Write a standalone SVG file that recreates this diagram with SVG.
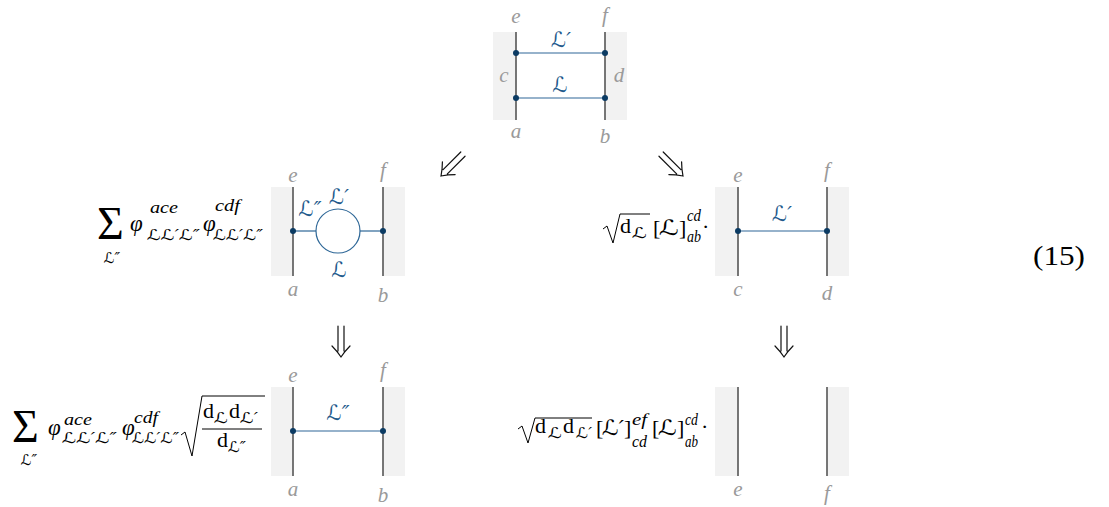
<svg xmlns="http://www.w3.org/2000/svg" xmlns:xlink="http://www.w3.org/1999/xlink" width="1109" height="507" viewBox="0 0 1109 507">
<style>
.bg{fill:#f2f2f2}
.wire{stroke:#555;stroke-width:1.6}
.link{stroke:#2e6797;stroke-width:1.2;fill:none}
.dot{fill:#0b3b63}
.lbl{font-family:"Liberation Serif","DejaVu Serif",serif;font-style:italic;font-size:21px;fill:#9a9a9a;text-anchor:middle}
.bl{font-family:"DejaVu Serif","DejaVu Sans",serif;font-style:italic;font-size:21px;fill:#1f5a8c;text-anchor:middle}
.m{font-family:"Liberation Serif","DejaVu Serif",serif;font-size:22px;fill:#000}
.mi{font-family:"Liberation Serif","DejaVu Serif",serif;font-style:italic;font-size:23px;fill:#000}
.s{font-family:"Liberation Serif","DejaVu Serif",serif;font-style:italic;font-size:17px;fill:#000}
.L{font-family:"DejaVu Serif","DejaVu Sans",serif;font-style:italic;font-size:15px;fill:#000}
.LL{font-family:"DejaVu Serif","DejaVu Sans",serif;font-style:italic;font-size:21px;fill:#000}
.sig{font-family:"Liberation Serif","DejaVu Serif",serif;font-size:46px;fill:#000}
.rad{stroke:#000;stroke-width:1;fill:none}
.arr{stroke:#111;stroke-width:1.2;fill:none;stroke-linecap:round}
</style>
<defs>
<g id="dbl">
<path d="M-3,-31 V-6 M3,-31 V-6 M-9,-11 Q-4,-6 0,0 Q4,-6 9,-11"/>
</g>
</defs>

<g id="top">
<rect class="bg" x="493" y="32" width="23" height="88"/>
<rect class="bg" x="605" y="32" width="22" height="88"/>
<line class="wire" x1="516" y1="32" x2="516" y2="120"/>
<line class="wire" x1="605" y1="32" x2="605" y2="120"/>
<line class="link" x1="516" y1="53" x2="605" y2="53"/>
<line class="link" x1="516" y1="98" x2="605" y2="98"/>
<circle class="dot" cx="516" cy="53" r="3"/><circle class="dot" cx="605" cy="53" r="3"/>
<circle class="dot" cx="516" cy="98" r="3"/><circle class="dot" cx="605" cy="98" r="3"/>
<text class="lbl" x="516" y="23">e</text>
<text class="lbl" x="605" y="22">f</text>
<text class="lbl" x="504" y="82">c</text>
<text class="lbl" x="619" y="82">d</text>
<text class="lbl" x="516" y="138">a</text>
<text class="lbl" x="605" y="143">b</text>
<text class="bl" x="561" y="47">ℒ′</text>
<text class="bl" x="560" y="92">ℒ</text>
</g>

<g id="mid-left">
<rect class="bg" x="271" y="187" width="22" height="89"/>
<rect class="bg" x="383" y="187" width="22" height="89"/>
<line class="wire" x1="293" y1="187" x2="293" y2="276"/>
<line class="wire" x1="383" y1="187" x2="383" y2="276"/>
<line class="link" x1="293" y1="231" x2="316" y2="231"/>
<line class="link" x1="360" y1="231" x2="383" y2="231"/>
<circle class="link" cx="338" cy="231" r="22"/>
<circle class="dot" cx="293" cy="231" r="3"/><circle class="dot" cx="383" cy="231" r="3"/>
<text class="lbl" x="293" y="182">e</text>
<text class="lbl" x="383" y="177">f</text>
<text class="lbl" x="293" y="296">a</text>
<text class="lbl" x="383" y="302">b</text>
<text class="bl" x="339" y="204">ℒ′</text>
<text class="bl" x="310" y="216">ℒ″</text>
<text class="bl" x="339" y="277">ℒ</text>
</g>

<g id="mid-left-coef">
<text class="sig" x="97" y="239">Σ</text>
<text class="L" x="112" y="263" text-anchor="middle">ℒ″</text>
<text class="mi" x="130" y="231">φ</text>
<text class="s" x="150" y="213" textLength="28" lengthAdjust="spacingAndGlyphs">ace</text>
<text class="L" x="147" y="240" textLength="53" lengthAdjust="spacingAndGlyphs">ℒℒ′ℒ″</text>
<text class="mi" x="203" y="231">φ</text>
<text class="s" x="215" y="211" textLength="25" lengthAdjust="spacingAndGlyphs">cdf</text>
<text class="L" x="213" y="240" textLength="50" lengthAdjust="spacingAndGlyphs">ℒℒ′ℒ″</text>
</g>

<g id="mid-right">
<rect class="bg" x="715" y="187" width="23" height="89"/>
<rect class="bg" x="827" y="187" width="22" height="89"/>
<line class="wire" x1="738" y1="187" x2="738" y2="276"/>
<line class="wire" x1="827" y1="187" x2="827" y2="276"/>
<line class="link" x1="738" y1="231" x2="827" y2="231"/>
<circle class="dot" cx="738" cy="231" r="3"/><circle class="dot" cx="827" cy="231" r="3"/>
<text class="lbl" x="738" y="182">e</text>
<text class="lbl" x="827" y="177">f</text>
<text class="lbl" x="738" y="296">c</text>
<text class="lbl" x="827" y="300">d</text>
<text class="bl" x="782" y="221">ℒ′</text>
</g>

<g id="mid-right-coef">
<path class="rad" d="M603,229 L607,226 L613,243 L620,214 H650"/>
<text class="m" x="620" y="233">d</text>
<text class="L" x="632" y="238" textLength="15" lengthAdjust="spacingAndGlyphs">ℒ</text>
<text class="m" x="653" y="235">[</text>
<text class="LL" x="659" y="235" textLength="20" lengthAdjust="spacingAndGlyphs">ℒ</text>
<text class="m" x="679" y="235">]</text>
<text class="s" x="687" y="221" textLength="14" lengthAdjust="spacingAndGlyphs">cd</text>
<text class="s" x="687" y="242" textLength="14" lengthAdjust="spacingAndGlyphs">ab</text>
<text class="m" x="702" y="234">·</text>
</g>

<g id="bot-left">
<rect class="bg" x="271" y="387" width="22" height="89"/>
<rect class="bg" x="383" y="387" width="22" height="89"/>
<line class="wire" x1="293" y1="387" x2="293" y2="476"/>
<line class="wire" x1="383" y1="387" x2="383" y2="476"/>
<line class="link" x1="293" y1="431" x2="383" y2="431"/>
<circle class="dot" cx="293" cy="431" r="3"/><circle class="dot" cx="383" cy="431" r="3"/>
<text class="lbl" x="293" y="382">e</text>
<text class="lbl" x="383" y="377">f</text>
<text class="lbl" x="293" y="496">a</text>
<text class="lbl" x="383" y="502">b</text>
<text class="bl" x="338" y="420">ℒ″</text>
</g>

<g id="bot-left-coef">
<text class="sig" x="12" y="442">Σ</text>
<text class="L" x="29" y="465" text-anchor="middle">ℒ″</text>
<text class="mi" x="48" y="435">φ</text>
<text class="s" x="64" y="425" textLength="28" lengthAdjust="spacingAndGlyphs">ace</text>
<text class="L" x="62" y="443" textLength="55" lengthAdjust="spacingAndGlyphs">ℒℒ′ℒ″</text>
<text class="mi" x="122" y="435">φ</text>
<text class="s" x="134" y="423" textLength="24" lengthAdjust="spacingAndGlyphs">cdf</text>
<text class="L" x="132" y="443" textLength="47" lengthAdjust="spacingAndGlyphs">ℒℒ′ℒ″</text>
<path class="rad" d="M181,435 L185,432 L192,456 L202,396 H265"/>
<text class="m" x="203" y="418">d</text>
<text class="L" x="214" y="423" textLength="14" lengthAdjust="spacingAndGlyphs">ℒ</text>
<text class="m" x="229" y="418">d</text>
<text class="L" x="240" y="423" textLength="18" lengthAdjust="spacingAndGlyphs">ℒ′</text>
<line x1="202" y1="429" x2="262" y2="429" stroke="#000" stroke-width="1"/>
<text class="m" x="217" y="447">d</text>
<text class="L" x="228" y="452" textLength="18" lengthAdjust="spacingAndGlyphs">ℒ″</text>
</g>

<g id="bot-right">
<rect class="bg" x="715" y="387" width="23" height="89"/>
<rect class="bg" x="827" y="387" width="22" height="89"/>
<line class="wire" x1="738" y1="387" x2="738" y2="476"/>
<line class="wire" x1="827" y1="387" x2="827" y2="476"/>
<text class="lbl" x="738" y="496">e</text>
<text class="lbl" x="827" y="500">f</text>
</g>

<g id="bot-right-coef">
<path class="rad" d="M518,429 L522,426 L528,443 L535,418 H592"/>
<text class="m" x="535" y="433">d</text>
<text class="L" x="548" y="438" textLength="14" lengthAdjust="spacingAndGlyphs">ℒ</text>
<text class="m" x="563" y="433">d</text>
<text class="L" x="576" y="438" textLength="16" lengthAdjust="spacingAndGlyphs">ℒ′</text>
<text class="m" x="596" y="435">[</text>
<text class="LL" x="602" y="435" textLength="22" lengthAdjust="spacingAndGlyphs">ℒ′</text>
<text class="m" x="624" y="435">]</text>
<text class="s" x="632" y="425" textLength="15" lengthAdjust="spacingAndGlyphs">ef</text>
<text class="s" x="632" y="447" textLength="15" lengthAdjust="spacingAndGlyphs">cd</text>
<text class="m" x="652" y="435">[</text>
<text class="LL" x="658" y="435" textLength="19" lengthAdjust="spacingAndGlyphs">ℒ</text>
<text class="m" x="677" y="435">]</text>
<text class="s" x="685" y="425" textLength="13" lengthAdjust="spacingAndGlyphs">cd</text>
<text class="s" x="685" y="447" textLength="13" lengthAdjust="spacingAndGlyphs">ab</text>
<text class="m" x="701" y="434">·</text>
</g>

<g id="eqnum">
<text class="m" x="1033" y="265" style="font-size:28px" textLength="52" lengthAdjust="spacingAndGlyphs">(15)</text>
</g>

<g id="connectors" class="arr">
<use xlink:href="#dbl" transform="translate(441,176) rotate(45)"/>
<use xlink:href="#dbl" transform="translate(683,176) rotate(-45)"/>
<use xlink:href="#dbl" transform="translate(341,357)"/>
<use xlink:href="#dbl" transform="translate(784,357)"/>
</g>
</svg>
